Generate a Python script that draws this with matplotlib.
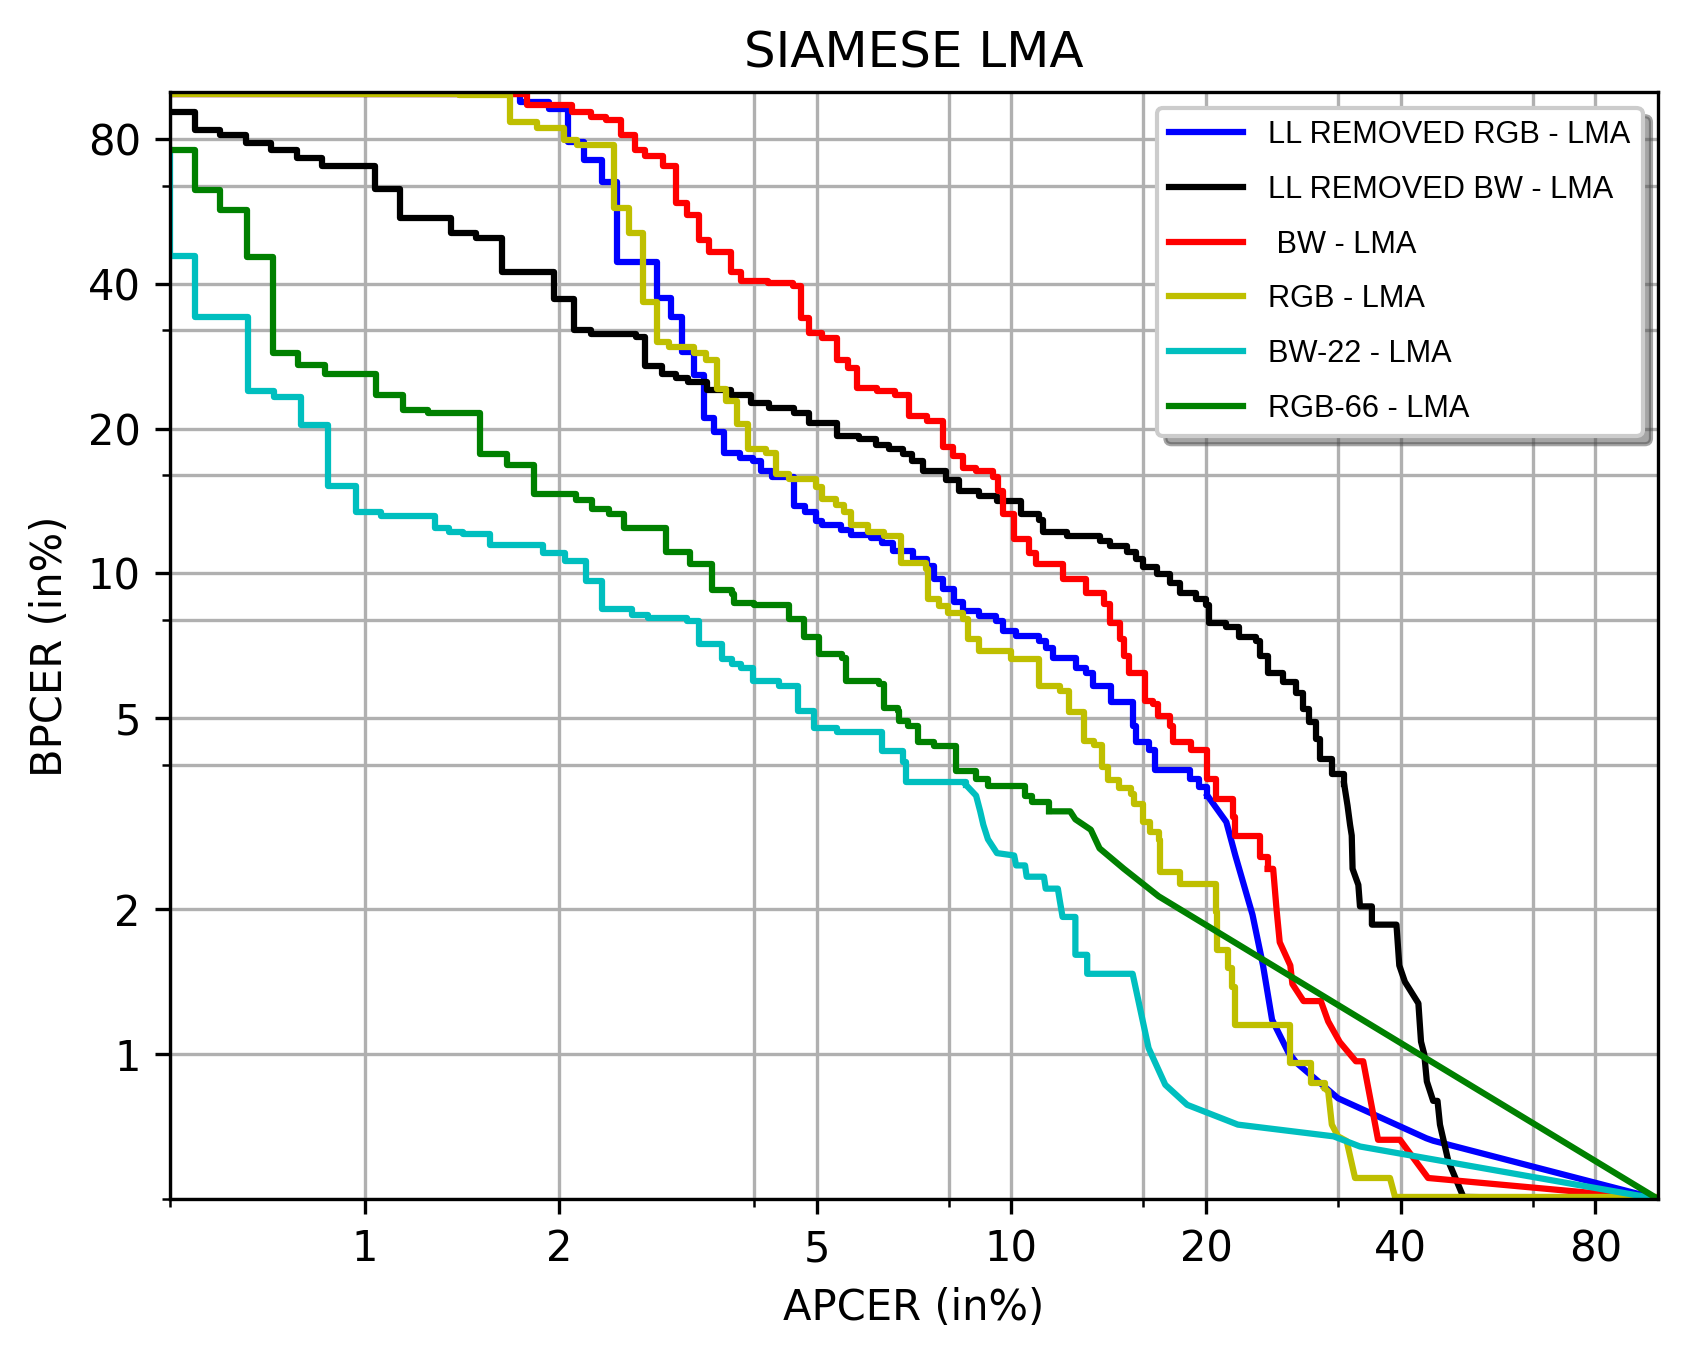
import numpy as np
import matplotlib.pyplot as plt
from matplotlib.ticker import NullFormatter

# DET curves, APCER / BPCER in %
# step part (drawn as steps-post) + tail part (straight segments)
blue_step_x = [0.45, 1.74, 1.93, 2.06, 2.18, 2.33, 2.46, 2.835, 2.98, 3.10, 3.23, 3.35, 3.47, 3.59, 3.80,
               3.98, 4.10, 4.27, 4.62, 4.80, 4.98, 5.10, 5.45, 5.65, 6.06, 6.32, 6.55, 7.04, 7.40, 7.60,
               7.83, 8.16, 8.41, 8.92, 9.47, 9.70, 10.17, 11.05, 11.32, 11.59, 12.6, 13.05, 13.36, 14.26,
               15.4, 15.6, 16.35, 16.7, 18.9, 19.5, 20.1]
blue_step_y = [99.3, 95.5, 92.5, 79.0, 72.3, 65.2, 44.5, 37.3, 34.1, 28.9, 25.9, 21.0, 19.7, 17.8, 17.4,
               17.1, 16.3, 15.9, 13.8, 13.4, 12.84, 12.6, 12.3, 12.0, 11.86, 11.57, 11.13, 10.7, 10.35, 9.72,
               9.27, 8.70, 8.36, 8.15, 7.96, 7.59, 7.41, 7.24, 7.01, 6.68, 6.37, 6.22, 5.84, 5.39,
               4.82, 4.45, 4.30, 3.90, 3.74, 3.59, 3.45]
blue_tail_x = [20.1, 21.5, 22.2, 23.6, 24.5, 25.3, 26.8, 27.6, 32.0, 43.8, 44.9, 100]
blue_tail_y = [3.45, 3.04, 2.59, 1.95, 1.53, 1.18, 1.01, 0.96, 0.81, 0.669, 0.661, 0.5]

black_step_x = [0.45, 0.546, 0.598, 0.656, 0.717, 0.786, 0.860, 1.036, 1.133, 1.359, 1.489, 1.632, 1.964,
                2.107, 2.236, 2.624, 2.713, 2.879, 3.026, 3.159, 3.388, 3.686, 3.96, 4.22, 4.61, 4.87,
                5.38, 5.82, 6.17, 6.47, 6.79, 7.03, 7.29, 7.93, 8.31, 8.92, 9.5, 10.35, 11.05, 11.2,
                12.2, 13.7, 14.2, 15.1, 15.6, 16.0, 16.8, 17.6, 18.2, 19.3, 20.0, 20.2, 21.5, 22.5,
                23.9, 24.2, 24.9, 26.3, 27.6, 28.2, 28.9, 29.6, 30.0, 31.3, 32.7]
black_step_y = [91.0, 83.6, 81.4, 78.6, 75.8, 72.9, 70.2, 63.1, 54.9, 51.1, 49.7, 42.3, 37.2,
                32.1, 31.5, 31.0, 27.0, 26.0, 25.5, 25.0, 24.1, 23.5, 22.6, 22.1, 21.5, 20.5,
                19.3, 19.0, 18.5, 18.1, 17.7, 17.1, 16.3, 15.6, 14.85, 14.45, 14.15, 13.3, 12.9, 12.2,
                11.95, 11.7, 11.4, 11.1, 10.7, 10.3, 9.95, 9.56, 9.12, 8.84, 8.58, 7.90, 7.72, 7.36,
                7.24, 6.74, 6.22, 5.93, 5.65, 5.22, 4.90, 4.52, 4.11, 3.82, 3.65]
black_tail_x = [32.7, 33.1, 33.4, 33.6, 33.7, 34.4, 34.6, 36.1, 36.1, 39.4, 39.8, 40.6, 41.5, 42.6,
                43.0, 43.5, 43.9, 44.9, 45.6, 46.0, 47.4, 50.0, 100]
black_tail_y = [3.65, 3.29, 3.0, 2.85, 2.43, 2.25, 2.03, 2.03, 1.86, 1.86, 1.53, 1.415, 1.35, 1.276,
                1.062, 1.0, 0.878, 0.80, 0.80, 0.714, 0.599, 0.505, 0.5]

red_step_x = [0.45, 1.78, 2.09, 2.24, 2.36, 2.49, 2.62, 2.71, 2.89, 3.03, 3.155, 3.29, 3.41, 3.69, 3.815,
              4.20, 4.59, 4.73, 4.87, 5.10, 5.38, 5.58, 5.78, 6.2, 6.6, 6.95, 7.40, 7.85, 8.12, 8.41,
              8.81, 9.36, 9.52, 9.70, 10.1, 10.66, 10.92, 12.0, 13.05, 13.93, 14.2, 14.7, 14.96, 15.2,
              16.07, 16.55, 16.85, 17.6, 17.8, 18.95, 20.1, 20.7, 22.0, 22.2, 24.2, 24.9]
red_step_y = [99.3, 94.0, 91.0, 88.9, 87.5, 81.4, 76.0, 73.7, 70.2, 58.9, 55.6, 49.3, 46.6, 42.4, 40.6,
              40.1, 39.5, 33.9, 31.6, 30.8, 27.8, 26.7, 24.3, 23.9, 23.5, 21.2, 20.7, 18.3, 17.5, 16.6,
              16.3, 15.9, 14.8, 13.3, 11.76, 11.04, 10.44, 9.72, 9.12, 8.62, 7.90, 7.30, 6.74, 6.22,
              5.43, 5.35, 5.06, 4.82, 4.47, 4.30, 3.74, 3.40, 3.11, 2.85, 2.57, 2.43]
red_tail_x = [24.9, 25.4, 25.7, 26.0, 27.0, 27.2, 28.3, 30.1, 30.9, 32.2, 34.1, 35.0, 36.9, 39.9, 44.1, 100]
red_tail_y = [2.43, 2.43, 2.01, 1.71, 1.53, 1.40, 1.29, 1.29, 1.17, 1.06, 0.967, 0.967, 0.664, 0.664, 0.553, 0.5]

yellow_step_x = [0.45, 1.0, 1.4, 1.68, 1.849, 2.03, 2.132, 2.43, 2.56, 2.69, 2.835, 2.955, 3.23, 3.37,
                 3.50, 3.62, 3.77, 3.91, 4.17, 4.32, 4.53, 4.98, 5.1, 5.35, 5.51, 5.65, 6.0, 6.35, 6.76,
                 7.38, 7.42, 7.74, 7.97, 8.41, 8.56, 8.92, 9.98, 11.05, 11.87, 12.3, 12.95, 13.4, 13.8,
                 14.1, 14.65, 15.3, 15.5, 16.0, 16.4, 16.9, 16.95, 18.2, 20.7, 20.8, 21.6, 21.9, 22.2,
                 27.0, 29.1, 30.5]
yellow_step_y = [99.5, 99.3, 98.9, 86.8, 84.3, 79.8, 77.6, 57.4, 51.1, 36.7, 30.3, 29.6, 28.7, 27.8,
                 24.2, 22.8, 20.4, 18.1, 17.8, 16.1, 15.7, 15.1, 14.3, 13.9, 13.4, 12.6, 12.2, 11.95, 10.5,
                 10.2, 8.84, 8.55, 8.28, 8.03, 7.30, 6.90, 6.63, 5.84, 5.70, 5.14, 4.49, 4.39, 3.96,
                 3.71, 3.57, 3.48, 3.32, 3.04, 2.90, 2.79, 2.39, 2.26, 1.98, 1.65, 1.51, 1.38, 1.15,
                 0.958, 0.871, 0.85]
yellow_tail_x = [30.5, 30.9, 31.3, 32.0, 33.0, 34.0, 38.5, 39.2, 100]
yellow_tail_y = [0.85, 0.837, 0.714, 0.675, 0.66, 0.553, 0.553, 0.505, 0.505]

cyan_step_x = [0.5, 0.5, 0.546, 0.66, 0.725, 0.798, 0.877, 0.971, 1.061, 1.283, 1.35, 1.42, 1.562, 1.888,
               2.04, 2.20, 2.33, 2.59, 2.74, 3.155, 3.29, 3.57, 3.70, 3.815, 3.98, 4.37, 4.67, 4.95,
               5.38, 6.32, 6.79, 6.87, 8.51]
cyan_step_y = [75.8, 45.8, 34.1, 23.9, 23.3, 20.3, 15.2, 13.4, 13.15, 12.4, 12.2, 12.05, 11.45, 11.03,
               10.6, 9.64, 8.45, 8.18, 8.09, 7.96, 7.12, 6.63, 6.47, 6.37, 5.98, 5.84, 5.18, 4.78,
               4.67, 4.28, 4.05, 3.68, 3.63]
cyan_tail_x = [8.51, 8.82, 8.95, 9.05, 9.2, 9.5, 10.1, 10.17, 10.5, 10.56, 11.23, 11.3, 11.8, 11.88,
               12.0, 12.56, 12.56, 13.1, 13.1, 15.4, 16.3, 17.3, 18.7, 22.4, 31.5, 34.6, 100]
cyan_tail_y = [3.63, 3.45, 3.2, 3.0, 2.8, 2.62, 2.59, 2.47, 2.47, 2.34, 2.34, 2.21, 2.21, 2.09,
               1.93, 1.93, 1.61, 1.61, 1.47, 1.47, 1.03, 0.864, 0.785, 0.714, 0.675, 0.643, 0.5]

green_step_x = [0.45, 0.546, 0.598, 0.657, 0.721, 0.790, 0.867, 1.042, 1.146, 1.253, 1.51, 1.66, 1.825,
                2.12, 2.25, 2.39, 2.52, 2.92, 3.19, 3.45, 3.70, 3.73, 4.0, 4.53, 4.78, 5.05, 5.48, 5.55,
                6.25, 6.36, 6.67, 6.71, 6.91, 7.16, 7.60, 8.21, 8.83, 9.19, 10.5, 10.76, 11.44]
green_step_y = [75.8, 62.6, 56.9, 45.5, 28.7, 27.1, 26.0, 23.5, 21.9, 21.5, 17.7, 16.8, 14.6,
                14.2, 13.6, 13.3, 12.4, 11.07, 10.44, 9.23, 9.05, 8.69, 8.58, 8.03, 7.36, 6.79, 6.68, 5.98,
                5.89, 5.26, 5.18, 4.94, 4.82, 4.45, 4.38, 3.88, 3.73, 3.62, 3.45, 3.35, 3.20]
green_tail_x = [11.44, 12.33, 12.56, 13.27, 13.69, 14.93, 16.9, 100]
green_tail_y = [3.20, 3.20, 3.08, 2.93, 2.68, 2.43, 2.13, 0.5]

curves = [
    ("LL REMOVED RGB - LMA", 'b', blue_step_x, blue_step_y, blue_tail_x, blue_tail_y),
    ("LL REMOVED BW - LMA", 'k', black_step_x, black_step_y, black_tail_x, black_tail_y),
    (" BW - LMA", 'r', red_step_x, red_step_y, red_tail_x, red_tail_y),
    ("RGB - LMA", 'y', yellow_step_x, yellow_step_y, yellow_tail_x, yellow_tail_y),
    ("BW-22 - LMA", 'c', cyan_step_x, cyan_step_y, cyan_tail_x, cyan_tail_y),
    ("RGB-66 - LMA", 'g', green_step_x, green_step_y, green_tail_x, green_tail_y),
]

major_ticks = [1, 2, 5, 10, 20, 40, 80]
minor_ticks = [0.5, 4, 8, 16, 32, 64]

fig = plt.figure(figsize=(5.627, 4.537), dpi=300)
ax = fig.add_subplot(111)
fig.subplots_adjust(left=0.1007, right=0.9822, bottom=0.119, top=0.932)

for label, c, sx, sy, tx, ty in curves:
    ax.plot(sx, sy, color=c, drawstyle='steps-post', linewidth=1.5, label=label)
    ax.plot(tx, ty, color=c, linewidth=1.5)

ax.set_xscale('log')
ax.set_yscale('log')
ax.set_xlim(0.5, 100)
ax.set_ylim(0.5, 100)

ax.set_xticks(major_ticks)
ax.set_xticklabels([str(t) for t in major_ticks])
ax.set_yticks(major_ticks)
ax.set_yticklabels([str(t) for t in major_ticks])
ax.set_xticks(minor_ticks, minor=True)
ax.set_yticks(minor_ticks, minor=True)
ax.xaxis.set_minor_formatter(NullFormatter())
ax.yaxis.set_minor_formatter(NullFormatter())

ax.grid(True, which='both')
ax.set_xlabel("APCER (in%)")
ax.set_ylabel("BPCER (in%)")
ax.set_title("SIAMESE LMA")

ax.legend(loc='upper right', shadow=True, handlelength=2.4, labelspacing=0.8,
          prop={'family': 'Liberation Sans', 'size': 7.4})

plt.savefig('out.png', dpi=300)
